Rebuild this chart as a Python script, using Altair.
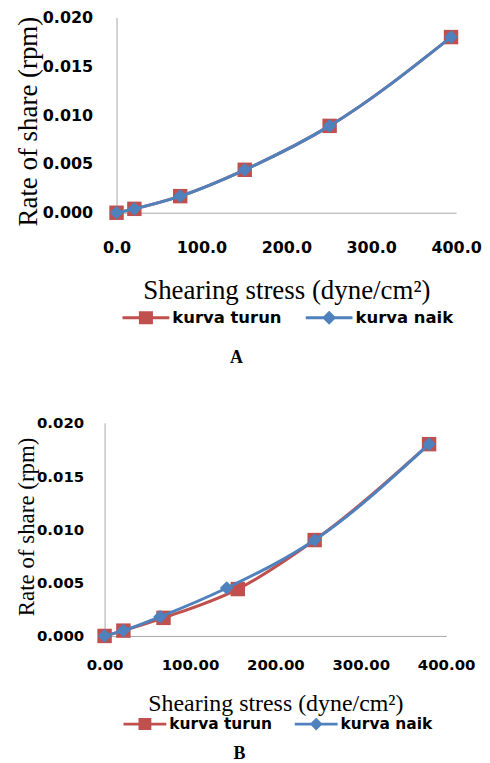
import altair as alt
import pandas as pd

series = ["kurva turun", "kurva naik"]
colors = ["#C0504D", "#4F81BD"]

x_ticks = [0, 100, 200, 300, 400]
y_ticks = [0.0, 0.005, 0.010, 0.015, 0.020]

# Panel A
a_stress_turun = [0, 21, 75, 151, 251, 394]
a_rate_turun = [0.0, 0.0004, 0.0017, 0.0044, 0.0089, 0.0180]
a_stress_naik = [0, 21, 75, 151, 251, 394]
a_rate_naik = [0.0, 0.0004, 0.0017, 0.0044, 0.0089, 0.0180]

# Panel B
b_stress_turun = [0, 22, 69, 156, 246, 380]
b_rate_turun = [0.0, 0.0005, 0.0017, 0.0044, 0.0090, 0.0180]
b_stress_naik = [0, 22, 65, 143, 246, 380]
b_rate_naik = [0.0, 0.0005, 0.0018, 0.0045, 0.0090, 0.0180]

PATH_SQ = "M-1,-0.065H1V0.065H-1Z M-0.3,-0.28H0.3V0.28H-0.3Z"
PATH_DIA = "M-1,-0.065H1V0.065H-1Z M0,-0.3L0.3,0L0,0.3L-0.3,0Z"


def panel(tx, ty, nx, ny, w, h, x_inset, xfmt, lab_size, ytitle_size, xtitle_size,
          ytitle_pad, ytitle_y, ylabel_pad, xlabel_pad, xtitle_pad,
          legend_x, legend_y, sym_w, leg_font, col_pad, caption, cap_dx, cap_offset):
    df = pd.concat([
        pd.DataFrame({"stress": tx, "rate": ty, "series": series[0]}),
        pd.DataFrame({"stress": nx, "rate": ny, "series": series[1]}),
    ], ignore_index=True)
    df["legend_series"] = df["series"]

    x = alt.X("stress:Q",
              scale=alt.Scale(domain=[0, 400], nice=False, range=[x_inset, w]),
              axis=alt.Axis(values=x_ticks, format=xfmt,
                            title="Shearing stress (dyne/cm²)",
                            titleX=(x_inset + w) / 2,
                            labelFlush=False, labelOverlap=False,
                            labelFontSize=lab_size, labelPadding=xlabel_pad,
                            titlePadding=xtitle_pad, titleFontSize=xtitle_size))
    y = alt.Y("rate:Q",
              scale=alt.Scale(domain=[0, 0.02], nice=False),
              axis=alt.Axis(values=y_ticks, format=".3f",
                            title="Rate of share (rpm)", offset=-x_inset,
                            labelFlush=False, labelOverlap=False,
                            labelFontSize=lab_size, labelPadding=ylabel_pad,
                            titlePadding=ytitle_pad, titleFontSize=ytitle_size,
                            titleY=ytitle_y))
    cscale = alt.Scale(domain=series, range=colors)

    base = alt.Chart(df).properties(width=w, height=h)

    def line(name):
        return base.transform_filter(alt.datum.series == name).mark_line(
            strokeWidth=3, interpolate="monotone").encode(
            x=x, y=y, color=alt.Color("series:N", scale=cscale, legend=None))

    red_line = line(series[0])
    red_pts = base.transform_filter(alt.datum.series == series[0]).mark_point(
        shape="square", filled=True, size=210, opacity=1).encode(
        x=x, y=y, color=alt.Color("series:N", scale=cscale, legend=None))
    blue_line = line(series[1])
    blue_pts = base.transform_filter(alt.datum.series == series[1]).mark_point(
        shape="diamond", filled=True, size=190, opacity=1).encode(
        x=x, y=y, color=alt.Color("series:N", scale=cscale, legend=None))

    leg = alt.Legend(title=None, orient="none", legendX=legend_x, legendY=legend_y,
                     direction="horizontal", symbolSize=sym_w * sym_w,
                     symbolStrokeWidth=0, symbolOpacity=1, padding=0,
                     labelFont="DejaVu Sans", labelFontWeight="bold",
                     labelFontSize=leg_font, labelColor="black", labelOffset=3,
                     columnPadding=col_pad)
    legend_layer = base.mark_point(filled=True, opacity=0).encode(
        x=x, y=y,
        color=alt.Color("legend_series:N", scale=alt.Scale(domain=series, range=colors),
                        legend=leg),
        shape=alt.Shape("legend_series:N",
                        scale=alt.Scale(domain=series, range=[PATH_SQ, PATH_DIA]),
                        legend=leg))

    return alt.layer(red_line, red_pts, blue_line, blue_pts, legend_layer).resolve_scale(
        color="independent", shape="independent").properties(
        title=alt.TitleParams(caption, orient="bottom", frame="group", dx=cap_dx,
                              offset=cap_offset, font="Liberation Serif",
                              fontWeight="bold", fontSize=18, color="black"))


# panel A: plot origin shared with B; A's y-axis sits 12 px to the right
chart_a = panel(a_stress_turun, a_rate_turun, a_stress_naik, a_rate_naik,
                353, 196, 12, ".1f", 16, 27, 27, 0, 104, 24, 27, 22, 18, 278, 47, 16.5, 24,
                "A", -44, 23)
chart_b = panel(b_stress_turun, b_rate_turun, b_stress_naik, b_rate_naik,
                343, 214, 0, ".2f", 15, 23, 24, -2, 104, 21, 22, 19, 19, 281, 43, 15.5, 22,
                "B", -36, 13)

chart = alt.ConcatChart(concat=[chart_a, chart_b], columns=1, spacing=49,
                        padding={"left": 6, "top": 0, "right": 0, "bottom": 0}).configure_view(
    stroke=None).configure_axis(
    grid=False, ticks=False, domainColor="#A6A6A6", domainWidth=1,
    labelFont="DejaVu Sans", labelFontWeight="bold", labelColor="black",
    titleFont="Liberation Serif", titleFontWeight="normal", titleColor="black"
).properties(background="white")

chart.save("out.html", embed_options={"renderer": "svg", "actions": False})
